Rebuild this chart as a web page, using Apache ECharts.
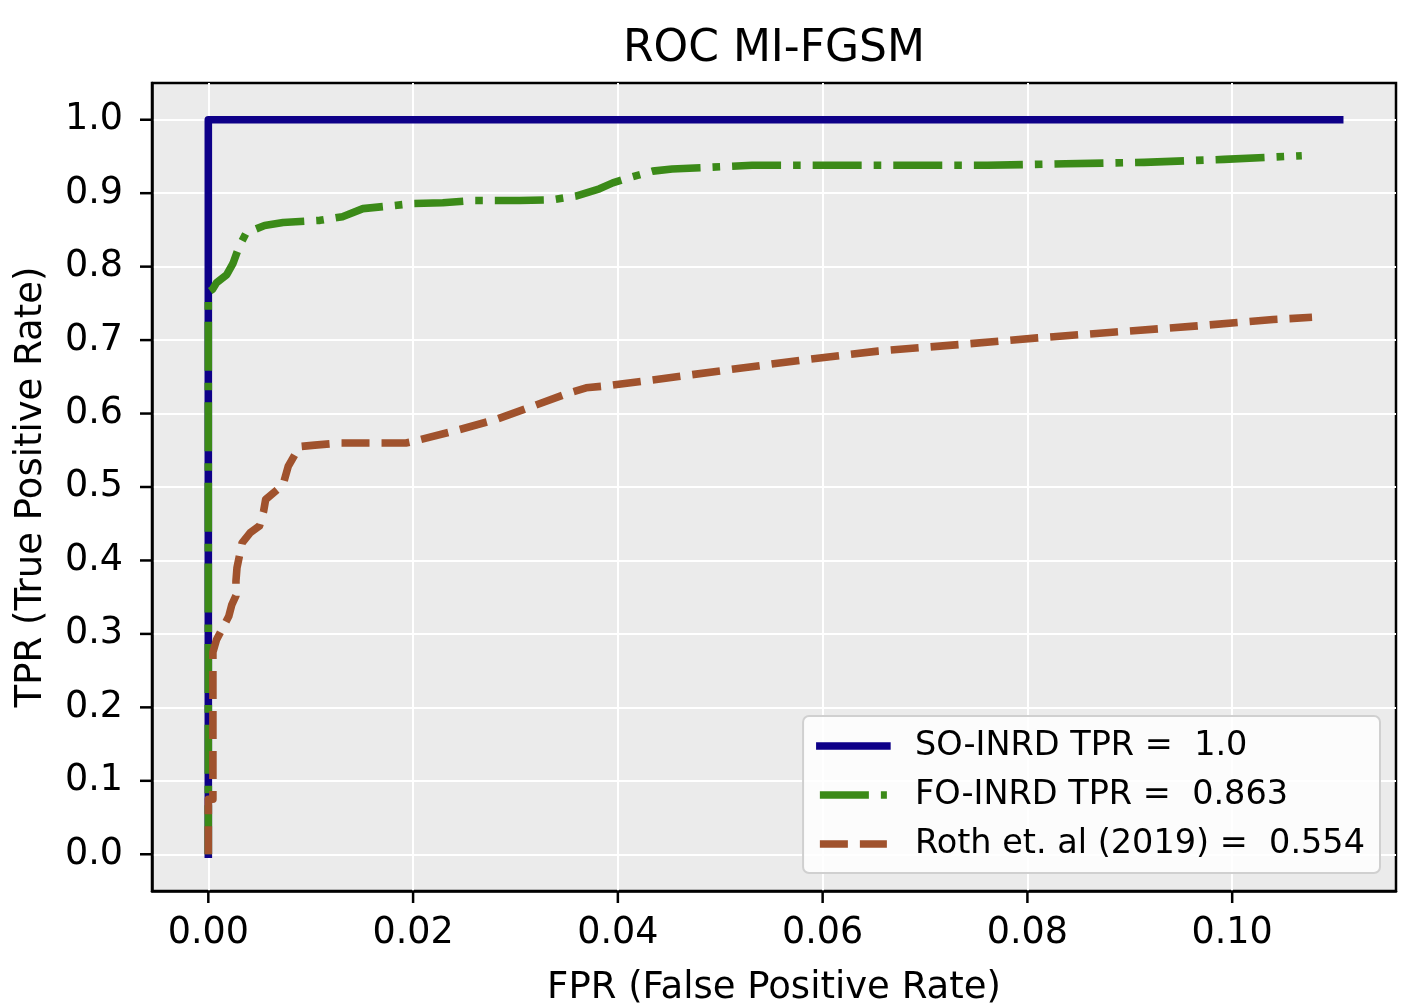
<!DOCTYPE html>
<html lang="en">

<head>
  <meta charset="UTF-8">
  <title>ROC MI-FGSM</title>
  <style>
    html,
    body {
      width: 100%;
      height: 100%;
      padding: 0;
      margin: 0;
      background: #fff;
    }

    #eChart {
      width: 1423px;
      height: 1007px;
    }
  </style>
</head>

<body>
  <div id="eChart"></div>

  <script src="https://cdn.jsdelivr.net/npm/echarts@6/dist/echarts.min.js"></script>
  <script>
    // tick labels
    var xTicks = [0.00, 0.02, 0.04, 0.06, 0.08, 0.10];
    var yTicks = [0.0, 0.1, 0.2, 0.3, 0.4, 0.5, 0.6, 0.7, 0.8, 0.9, 1.0];

    var seriesNames = ['SO-INRD TPR =  1.0', 'FO-INRD TPR =  0.863', 'Roth et. al (2019) =  0.554'];

    // [fpr, tpr] pairs
    var soInrd = [[0, 0], [0, 1], [0.1105, 1]];

    var foInrd = [
      [0, 0], [0, 0.765], [0.0004, 0.769], [0.0008, 0.778], [0.0018, 0.789], [0.0024, 0.804],
      [0.0030, 0.827], [0.0037, 0.846], [0.0055, 0.856], [0.0073, 0.860], [0.0109, 0.863],
      [0.0131, 0.868], [0.0151, 0.879], [0.0180, 0.883], [0.0200, 0.886], [0.0229, 0.887],
      [0.0258, 0.890], [0.0304, 0.890], [0.0336, 0.891], [0.0359, 0.896], [0.0382, 0.906],
      [0.0395, 0.914], [0.0411, 0.921], [0.0434, 0.930], [0.0453, 0.933], [0.0486, 0.935],
      [0.0531, 0.938], [0.0674, 0.938], [0.0761, 0.938], [0.0837, 0.940], [0.0914, 0.942],
      [0.0992, 0.946], [0.1068, 0.951]
    ];

    var roth = [
      [0, 0], [0, 0.075], [0.00045, 0.075], [0.00045, 0.275], [0.0008, 0.292], [0.0020, 0.324],
      [0.0023, 0.340], [0.0027, 0.352], [0.0027, 0.372], [0.0028, 0.390], [0.0033, 0.424],
      [0.0041, 0.438], [0.0050, 0.447], [0.0054, 0.467], [0.0056, 0.483], [0.0073, 0.503],
      [0.0078, 0.528], [0.0089, 0.555], [0.0104, 0.557], [0.0130, 0.560], [0.0193, 0.560],
      [0.0200, 0.562], [0.0245, 0.578], [0.0281, 0.592], [0.0317, 0.610], [0.0352, 0.628],
      [0.0369, 0.635], [0.0391, 0.638], [0.0430, 0.645], [0.0505, 0.659], [0.0581, 0.673],
      [0.0654, 0.685], [0.0734, 0.694], [0.0810, 0.703], [0.0886, 0.711], [0.0963, 0.719],
      [0.1040, 0.728], [0.1078, 0.731]
    ];

    var xMin = -0.0055, xMax = 0.1160;
    var yMin = -0.05, yMax = 1.05;

    var font = 'DejaVu Sans';
    var chart = echarts.init(document.getElementById('eChart'), null, { renderer: 'canvas' });

    // tick marks are drawn as part of each label (small black boxes next to the text)
    var labelRich = {
      v: { fontFamily: font, fontSize: 36.5, color: '#000' },
      vx: { fontFamily: font, fontSize: 36.5, color: '#000', padding: [12, 0, 0, 0] },
      gy: { width: 17, height: 2 },
      ty: { width: 12, height: 2.5, backgroundColor: '#000' },
      tx: { width: 2.5, height: 12, backgroundColor: '#000' }
    };

    function valueAxis(ticks) {
      return {
        type: 'value',
        nameLocation: 'middle',
        nameTextStyle: { fontFamily: font, fontSize: 37, color: '#000' },
        axisLine: { show: true, onZero: false, lineStyle: { color: '#000', width: 2.5 } },
        axisTick: { show: false, customValues: ticks },
        axisLabel: { customValues: ticks, margin: 0, rich: labelRich },
        splitLine: { show: true, lineStyle: { color: '#fff', width: 2 } }
      };
    }

    var xAxis = valueAxis(xTicks);
    xAxis.min = xMin;
    xAxis.max = xMax;
    xAxis.name = 'FPR (False Positive Rate)';
    xAxis.nameGap = 79;
    xAxis.axisLabel.formatter = function (v) {
      return '{tx|}\n{vx|' + v.toFixed(2) + '}';
    };

    var yAxis = valueAxis(yTicks);
    yAxis.min = yMin;
    yAxis.max = yMax;
    yAxis.name = 'TPR (True Positive Rate)';
    yAxis.nameGap = 102;
    yAxis.axisLabel.formatter = function (v) {
      return '{v|' + v.toFixed(1) + '}{gy|}{ty|}';
    };

    chart.setOption({
      animation: false,
      title: {
        text: 'ROC MI-FGSM',
        left: 769,
        textAlign: 'center',
        top: 23,
        textStyle: { fontFamily: font, fontSize: 44, fontWeight: 'normal', color: '#000' }
      },
      grid: {
        left: 152, top: 83, right: 27, bottom: 116,
        containLabel: false, outerBoundsMode: 'none',
        show: true, backgroundColor: '#EBEBEB', borderColor: '#000', borderWidth: 2.5
      },
      legend: {
        right: 43, bottom: 134,
        orient: 'vertical',
        selectedMode: false,
        backgroundColor: 'rgba(255,255,255,0.85)',
        borderColor: '#d0d0d0', borderWidth: 2, borderRadius: 6,
        padding: [13, 15, 12, 13],
        itemWidth: 67, itemHeight: 8, itemGap: 15,
        lineStyle: { width: 'inherit' },
        itemStyle: { opacity: 0 },
        textStyle: { fontFamily: font, fontSize: 33.5, color: '#000', padding: [0, 0, 0, 23] },
        data: seriesNames
      },
      xAxis: xAxis,
      yAxis: yAxis,
      series: [
        {
          name: seriesNames[0], type: 'line', data: soInrd, showSymbol: false, symbol: 'none',
          lineStyle: { color: '#0e0088', width: 7.6, cap: 'square', join: 'round' },
          itemStyle: { color: '#0e0088' }
        },
        {
          name: seriesNames[1], type: 'line', data: foInrd, showSymbol: false, symbol: 'none',
          lineStyle: { color: '#3b8a18', width: 7.6, type: [49, 12, 7.6, 12], cap: 'butt', join: 'round' },
          itemStyle: { color: '#3b8a18' }
        },
        {
          name: seriesNames[2], type: 'line', data: roth, showSymbol: false, symbol: 'none',
          lineStyle: { color: '#a0522d', width: 7.6, type: [28, 12], cap: 'butt', join: 'round' },
          itemStyle: { color: '#a0522d' }
        }
      ]
    });
  </script>
</body>

</html>
